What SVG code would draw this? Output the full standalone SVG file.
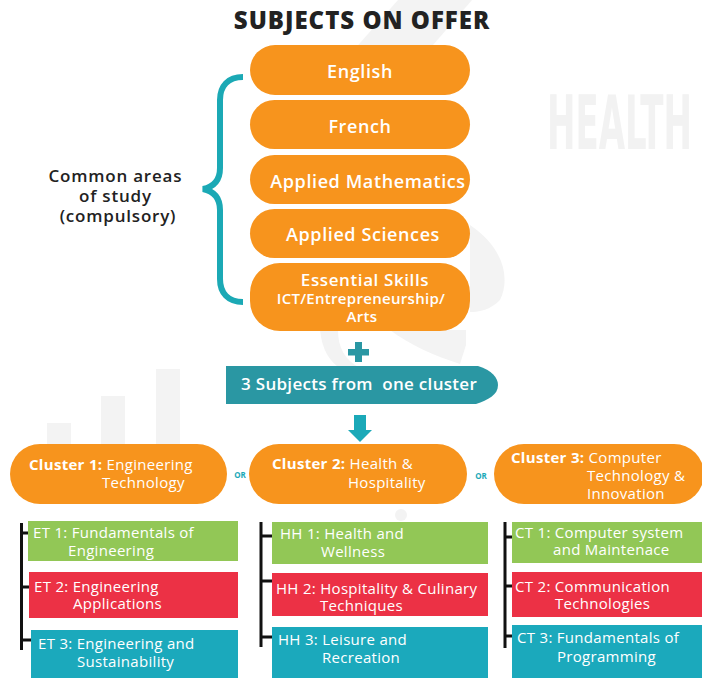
<svg xmlns="http://www.w3.org/2000/svg" width="702" height="678" viewBox="0 0 702 678">
<style>
text{font-family:"Open Sans","Noto Sans","DejaVu Sans",sans-serif;}
.wm{fill:#f3f3f3;}
.pill{fill:#f7941d;}
.bt{fill:#fff;font-size:18px;font-weight:600;letter-spacing:0.6px;text-anchor:middle;}
.bs{fill:#fff;font-size:15px;font-weight:600;letter-spacing:0.3px;text-anchor:middle;}
.ct{fill:#fff;font-size:15px;font-weight:500;letter-spacing:0.3px;}
.ct .b{font-weight:700;}
.it{fill:#fff;font-size:15px;font-weight:500;letter-spacing:0.3px;}
.g{fill:#92c756;}
.r{fill:#ec3145;}
.t{fill:#1ba9bc;}
.or{fill:#1ba9b8;font-size:8px;font-weight:700;text-anchor:middle;}
.br{stroke:#111;stroke-width:3;fill:none;}
</style>
<rect width="702" height="678" fill="#fff"/>
<g id="watermark">
<path class="wm" d="M398,0 L472,0 L420,60 L345,60 Z"/>
<path class="wm" d="M470,225 C500,245 512,275 500,300 C490,310 480,312 470,312 Z"/>
<path class="wm" d="M320,330 C322,350 330,362 340,368 L360,368 C345,360 338,348 338,330 Z"/>
<path class="wm" d="M390,330 C410,345 435,356 460,364 L466,345 L466,330 Z"/>
<rect class="wm" x="47" y="423" width="24" height="30"/>
<rect class="wm" x="101" y="396" width="24" height="50"/>
<rect class="wm" x="156" y="369" width="24" height="80"/>
<circle class="wm" cx="401" cy="515" r="6"/>
<text x="547" y="149" textLength="145" lengthAdjust="spacingAndGlyphs" style="font-family:'DejaVu Sans Condensed','DejaVu Sans',sans-serif;font-weight:700;font-size:75px;fill:#f2f2f2;">HEALTH</text>
</g>
<g id="title">
<text x="362" y="29" style="font-size:24px;font-weight:800;letter-spacing:1px;text-anchor:middle;fill:#222;">SUBJECTS ON OFFER</text>
</g>
<g id="common-label">
<text style="font-size:17px;font-weight:600;letter-spacing:0.8px;text-anchor:middle;fill:#222;">
<tspan x="118" y="182">Common areas</tspan>
<tspan x="118" y="202">of study</tspan>
<tspan x="118" y="222">(compulsory)</tspan>
</text>
</g>
<g id="connectors">
<path d="M243,77 C228,77 220,86 220,100 L220,168 C220,181 213,187 203,189 C213,191 220,197 220,210 L220,279 C220,293 228,302 243,302" fill="none" stroke="#1ba9b5" stroke-width="6"/>
<rect x="348" y="349" width="21" height="6.5" fill="#2a97a3"/>
<rect x="355" y="342" width="7" height="20" fill="#2a97a3"/>
<rect x="354" y="415" width="12" height="16" fill="#1ba9b8"/>
<path d="M348,430 L372,430 L360,442 Z" fill="#1ba9b8"/>
<path class="br" d="M21.5,523 V650 M21.5,533 H28 M21.5,587 H29 M21.5,640 H31"/>
<path class="br" d="M261,522 V647 M261,536 H272 M261,581 H272 M261,637 H272"/>
<path class="br" d="M505,522 V648 M505,537 H512 M505,586 H512 M505,636 H512"/>
</g>
<g id="english">
<rect class="pill" x="250" y="45" width="220" height="50" rx="25"/>
<text class="bt" x="360" y="78">English</text>
</g>
<g id="french">
<rect class="pill" x="250" y="100" width="220" height="49" rx="24.5"/>
<text class="bt" x="360" y="133">French</text>
</g>
<g id="applied-mathematics">
<rect class="pill" x="250" y="155" width="220" height="49" rx="24.5"/>
<text class="bt" x="368" y="188">Applied Mathematics</text>
</g>
<g id="applied-sciences">
<rect class="pill" x="250" y="209" width="220" height="49" rx="24.5"/>
<text class="bt" x="363" y="241">Applied Sciences</text>
</g>
<g id="essential-skills">
<rect class="pill" x="250" y="263" width="220" height="68" rx="30"/>
<text class="bt" x="365" y="286" style="font-size:17px;">Essential Skills</text>
<text class="bs" x="361" y="304">ICT/Entrepreneurship/</text>
<text class="bs" x="362" y="322">Arts</text>
</g>
<g id="three-subjects">
<path d="M226,366 H478 C492,370 498,378 498,385 C498,395 488,400 476,404 H226 Z" fill="#2a97a3"/>
<text x="241" y="390" style="font-size:17px;font-weight:600;letter-spacing:0.3px;fill:#fff;white-space:pre;" xml:space="preserve">3 Subjects from  one cluster</text>
</g>
<g id="cluster-1">
<rect class="pill" x="10" y="444" width="217" height="60" rx="30"/>
<text class="ct"><tspan x="29" y="470"><tspan class="b">Cluster 1:</tspan> Engineering</tspan><tspan x="102" y="488">Technology</tspan></text>
</g>
<g id="or-1"><text class="or" x="240" y="478">OR</text></g>
<g id="cluster-2">
<rect class="pill" x="249" y="444" width="218" height="60" rx="30"/>
<text class="ct"><tspan x="272" y="469"><tspan class="b">Cluster 2:</tspan> Health &amp;</tspan><tspan x="348" y="488">Hospitality</tspan></text>
</g>
<g id="or-2"><text class="or" x="481" y="479">OR</text></g>
<g id="cluster-3">
<rect class="pill" x="494" y="444" width="210" height="60" rx="30"/>
<text class="ct"><tspan x="511" y="463"><tspan class="b">Cluster 3:</tspan> Computer</tspan><tspan x="587" y="481">Technology &amp;</tspan><tspan x="587" y="499">Innovation</tspan></text>
</g>
<g id="et1">
<rect class="g" x="28" y="521" width="210" height="40"/>
<text class="it"><tspan x="33" y="538">ET 1: Fundamentals of</tspan><tspan x="68" y="556">Engineering</tspan></text>
</g>
<g id="et2">
<rect class="r" x="29" y="572" width="209" height="46"/>
<text class="it"><tspan x="34" y="592">ET 2: Engineering</tspan><tspan x="73" y="609">Applications</tspan></text>
</g>
<g id="et3">
<rect class="t" x="31" y="630" width="207" height="48"/>
<text class="it"><tspan x="38" y="649">ET 3: Engineering and</tspan><tspan x="77" y="667">Sustainability</tspan></text>
</g>
<g id="hh1">
<rect class="g" x="272" y="522" width="216" height="42"/>
<text class="it"><tspan x="280" y="539">HH 1: Health and</tspan><tspan x="321" y="557">Wellness</tspan></text>
</g>
<g id="hh2">
<rect class="r" x="272" y="573" width="216" height="43"/>
<text class="it"><tspan x="276" y="594">HH 2: Hospitality &amp; Culinary</tspan><tspan x="320" y="611">Techniques</tspan></text>
</g>
<g id="hh3">
<rect class="t" x="272" y="627" width="216" height="51"/>
<text class="it"><tspan x="278" y="645">HH 3: Leisure and</tspan><tspan x="322" y="663">Recreation</tspan></text>
</g>
<g id="ct1">
<rect class="g" x="512" y="522" width="190" height="41"/>
<text class="it"><tspan x="515" y="538">CT 1: Computer system</tspan><tspan x="553" y="555">and Maintenace</tspan></text>
</g>
<g id="ct2">
<rect class="r" x="512" y="572" width="190" height="45"/>
<text class="it"><tspan x="515" y="592">CT 2: Communication</tspan><tspan x="555" y="609">Technologies</tspan></text>
</g>
<g id="ct3">
<rect class="t" x="512" y="625" width="190" height="53"/>
<text class="it"><tspan x="517" y="643">CT 3: Fundamentals of</tspan><tspan x="557" y="662">Programming</tspan></text>
</g>
</svg>
